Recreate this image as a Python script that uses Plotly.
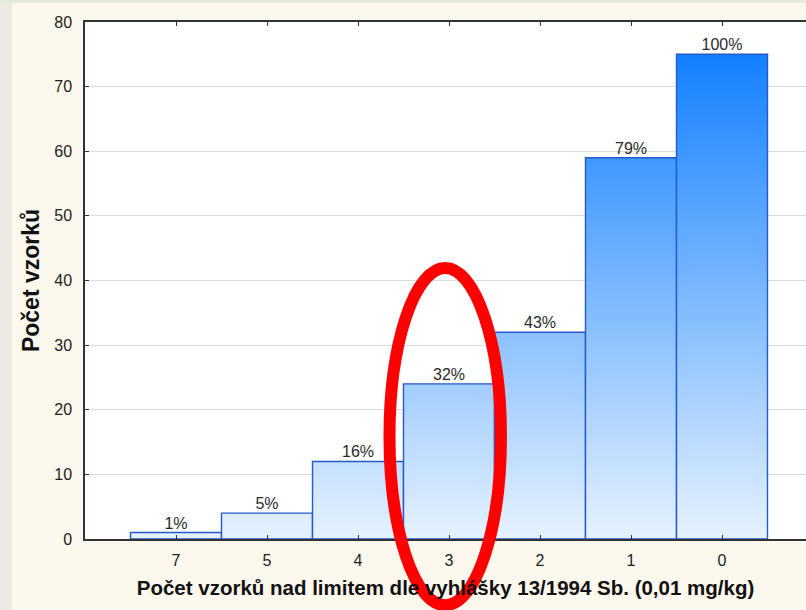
import plotly.graph_objects as go

categories = ["7", "5", "4", "3", "2", "1", "0"]
counts = [1, 4, 12, 24, 32, 59, 75]
cum_pct = ["1%", "5%", "16%", "32%", "43%", "79%", "100%"]

x_title = "Počet vzorků nad limitem dle vyhlášky 13/1994 Sb. (0,01 mg/kg)"
y_title = "Počet vzorků"
y_ticks = [0, 10, 20, 30, 40, 50, 60, 70, 80]

FONT = "Liberation Sans, Arial, sans-serif"
idx = list(range(len(categories)))

fig = go.Figure()

# bars as filled rectangles (gradient fill in absolute y coordinates)
for i, v in zip(idx, counts):
    fig.add_trace(go.Scatter(
        x=[i - 0.5, i - 0.5, i + 0.5, i + 0.5, i - 0.5],
        y=[0, v, v, 0, 0],
        mode="lines",
        fill="toself",
        fillgradient=dict(type="vertical",
                          colorscale=[[0, "#E6F2FF"], [1, "#1380FF"]],
                          start=0, stop=75),
        line=dict(color="#2458CC", width=1.4),
        hoverinfo="skip",
        showlegend=False,
    ))

# percentage labels
fig.add_trace(go.Scatter(
    x=idx, y=counts, text=cum_pct, mode="text",
    textposition="top center",
    textfont=dict(family=FONT, size=16, color="#2a2a2a"),
    showlegend=False, hoverinfo="skip", cliponaxis=False,
))

fig.update_layout(
    width=806, height=610,
    margin=dict(l=85, r=0, t=22, b=71),
    paper_bgcolor="#FDF8EE",
    plot_bgcolor="#FFFFFF",
    font=dict(family=FONT, size=16, color="#222222"),
    showlegend=False,
    xaxis=dict(
        range=[-1, 6.923], tickmode="array", tickvals=idx, ticktext=categories,
        showgrid=False, zeroline=False,
        showline=True, linecolor="#333333", linewidth=1.5, mirror="ticks",
        ticks="inside", ticklen=4, tickcolor="#333333",
        ticklabelstandoff=6,
        tickfont=dict(family=FONT, size=16, color="#222222"),
        title=dict(text=x_title, standoff=13,
                   font=dict(family=FONT, size=20.5, color="#111111", weight="bold")),
    ),
    yaxis=dict(
        range=[0, 80], tickmode="array", tickvals=y_ticks,
        showgrid=True, gridcolor="#DCDCDC", gridwidth=1, zeroline=False,
        showline=True, linecolor="#333333", linewidth=1.5,
        ticks="inside", ticklen=4, tickcolor="#333333",
        ticklabelstandoff=8,
        tickfont=dict(family=FONT, size=16, color="#222222"),
        title=dict(text=y_title, standoff=8,
                   font=dict(family=FONT, size=23, color="#111111", weight="bold")),
    ),
)

# page edges (grey strip left, thin strip top)
fig.add_shape(type="rect", xref="paper", yref="paper",
              x0=-85 / 721, x1=-73 / 721, y0=-71 / 517, y1=539 / 517,
              fillcolor="#ECE9E1", line=dict(width=0), layer="below")
fig.add_shape(type="rect", xref="paper", yref="paper",
              x0=-85 / 721, x1=1, y0=536 / 517, y1=539 / 517,
              fillcolor="#E7EADC", line=dict(width=0), layer="below")

# red highlight ellipse around category "3"
fig.add_shape(type="circle", xref="x", yref="paper",
              x0=2.346, x1=3.571, y0=-0.128, y1=0.524,
              line=dict(color="#FF0000", width=12), layer="above")

fig.write_html("out.html",
               config={"displayModeBar": False},
               post_script="document.body.style.margin='0';"
                           "document.body.style.background='#FDF8EE';")
